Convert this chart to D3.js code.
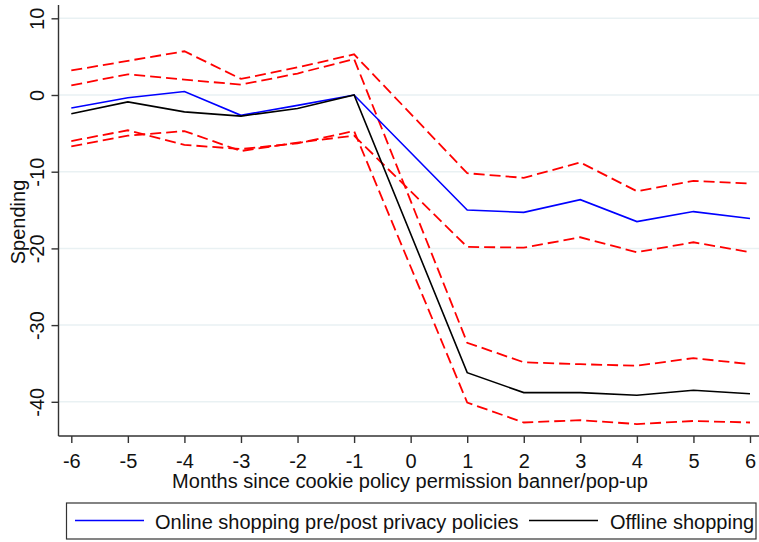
<!DOCTYPE html>
<html>
<head>
<meta charset="utf-8">
<script src="https://cdn.jsdelivr.net/npm/d3@7"></script>
<style>
    body { margin: 0; background: #fff; }
    svg text { font-family: "Liberation Sans", Arial, sans-serif; fill: #111; }
</style>
</head>
<body>
<div id="chart"></div>
<script>
'use strict';

// Months relative to the banner (month 0 is not estimated)
const months = [-6, -5, -4, -3, -2, -1, 1, 2, 3, 4, 5, 6];
const xTicks = [-6, -5, -4, -3, -2, -1, 0, 1, 2, 3, 4, 5, 6];
const yTicks = [10, 0, -10, -20, -30, -40];

// Online shopping estimate and its confidence band
const online      = [-1.7, -0.35, 0.45, -2.65, -1.35, 0, -15.0, -15.3, -13.65, -16.5, -15.2, -16.1];
const onlineUpper = [3.2, 4.45, 5.7, 2.1, 3.6, 5.3, -10.2, -10.8, -8.8, -12.55, -11.2, -11.55];
const onlineLower = [-6.7, -5.3, -4.7, -7.3, -6.2, -5.3, -19.8, -19.9, -18.55, -20.5, -19.2, -20.5];

// Offline shopping estimate and its confidence band
const offline      = [-2.45, -0.9, -2.2, -2.75, -1.75, 0, -36.2, -38.8, -38.8, -39.15, -38.5, -38.95];
const offlineUpper = [1.25, 2.7, 2.0, 1.35, 2.8, 4.7, -32.3, -34.85, -35.1, -35.3, -34.3, -35.1];
const offlineLower = [-6.0, -4.6, -6.5, -7.05, -6.3, -4.7, -40.1, -42.7, -42.4, -42.9, -42.5, -42.7];

const legendItems = [
    { label: 'Online shopping pre/post privacy policies', color: '#0000ff' },
    { label: 'Offline shopping', color: '#000000' }
];

const width = 759, height = 542;
const plot = { left: 58.5, right: 759, top: 5, bottom: 436 };
const fontSize = '20px';

const svg = d3.select('#chart').append('svg')
    .attr('width', width)
    .attr('height', height);

const x = d3.scaleLinear()
    .domain([-6, 6])
    .range([71.3, 750]);

const y = d3.scaleLinear()
    .domain([0, -10])
    .range([95, 171.7]);

// Gridlines
svg.append('g')
    .selectAll('line')
    .data(yTicks)
    .join('line')
    .attr('x1', plot.left)
    .attr('x2', plot.right)
    .attr('y1', d => y(d))
    .attr('y2', d => y(d))
    .attr('stroke', '#e9f1f3')
    .attr('stroke-width', 1.5);

// Axes (plain hyphen for negatives, like the original)
const axisY = svg.append('g')
    .attr('transform', `translate(${plot.left},0)`)
    .call(d3.axisLeft(y).tickValues(yTicks).tickFormat(d => String(d))
        .tickSize(7).tickSizeOuter(0));
axisY.select('.domain').attr('d', `M0,${plot.top}V${plot.bottom}`);

const axisX = svg.append('g')
    .attr('transform', `translate(0,${plot.bottom})`)
    .call(d3.axisBottom(x).tickValues(xTicks).tickFormat(d => String(d))
        .tickSize(7).tickPadding(11).tickSizeOuter(0));
axisX.select('.domain').attr('d', `M${plot.left},0H${plot.right}`);

svg.selectAll('.domain, .tick line')
    .attr('stroke', '#333')
    .attr('stroke-width', 1.4);

svg.selectAll('.tick text')
    .style('font-family', '"Liberation Sans", Arial, sans-serif')
    .style('font-size', fontSize)
    .attr('fill', '#111');

axisY.selectAll('.tick text')
    .attr('transform', 'rotate(-90)')
    .attr('x', 0)
    .attr('y', -15)
    .attr('dy', 0)
    .style('text-anchor', 'middle');

axisX.selectAll('.tick text')
    .attr('dy', '0.71em');

// Axis titles
svg.append('text')
    .attr('x', 410)
    .attr('y', 488)
    .style('text-anchor', 'middle')
    .style('font-size', fontSize)
    .text('Months since cookie policy permission banner/pop-up');

svg.append('text')
    .attr('transform', 'translate(25,222) rotate(-90)')
    .style('text-anchor', 'middle')
    .style('font-size', fontSize)
    .text('Spending');

// Lines
const line = d3.line()
    .x(d => x(d[0]))
    .y(d => y(d[1]));

const series = [
    { values: onlineUpper, color: '#ff0000', dash: '11,5', w: 1.8 },
    { values: onlineLower, color: '#ff0000', dash: '11,5', w: 1.8 },
    { values: offlineUpper, color: '#ff0000', dash: '11,5', w: 1.8 },
    { values: offlineLower, color: '#ff0000', dash: '11,5', w: 1.8 },
    { values: online, color: '#0000ff', dash: null, w: 1.6 },
    { values: offline, color: '#000000', dash: null, w: 1.6 }
];

svg.append('g')
    .selectAll('path')
    .data(series)
    .join('path')
    .attr('d', s => line(months.map((m, i) => [m, s.values[i]])))
    .attr('fill', 'none')
    .attr('stroke', s => s.color)
    .attr('stroke-width', s => s.w)
    .attr('stroke-dasharray', s => s.dash)
    .attr('stroke-linejoin', 'miter');

// Legend
const legend = svg.append('g');
legend.append('rect')
    .attr('x', 66.5)
    .attr('y', 503)
    .attr('width', 689.5)
    .attr('height', 36)
    .attr('fill', '#fff')
    .attr('stroke', '#333')
    .attr('stroke-width', 1.2);

const legendPos = [{ x1: 75, x2: 144, tx: 155 }, { x1: 529, x2: 598, tx: 610 }];

legend.selectAll('line')
    .data(legendItems)
    .join('line')
    .attr('x1', (d, i) => legendPos[i].x1)
    .attr('x2', (d, i) => legendPos[i].x2)
    .attr('y1', 520.5)
    .attr('y2', 520.5)
    .attr('stroke', d => d.color)
    .attr('stroke-width', 1.6);

legend.selectAll('text')
    .data(legendItems)
    .join('text')
    .attr('x', (d, i) => legendPos[i].tx)
    .attr('y', 529)
    .style('font-size', fontSize)
    .text(d => d.label);
</script>
</body>
</html>
